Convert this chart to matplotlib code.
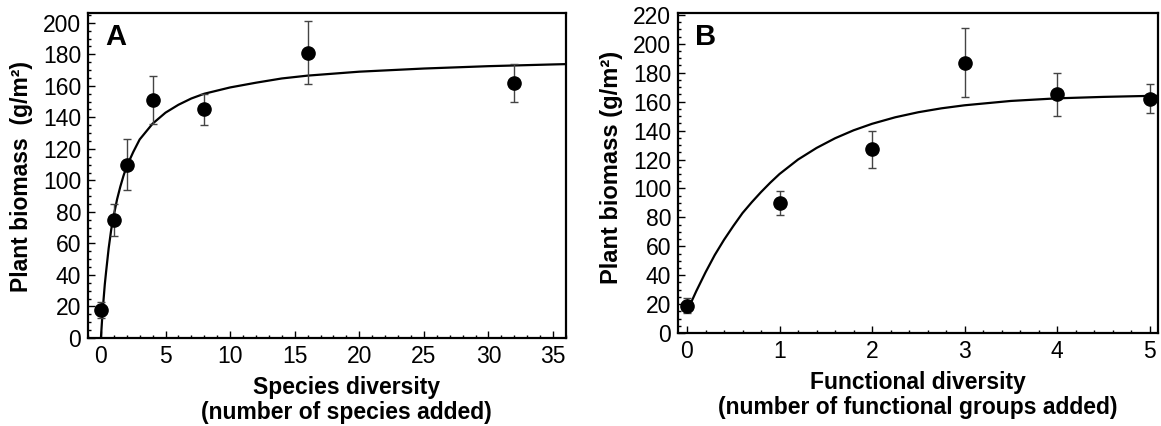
import matplotlib.pyplot as plt
from matplotlib.ticker import MultipleLocator

plt.rcParams['font.family'] = ['Liberation Sans', 'DejaVu Sans']

# panel A: species diversity
species_x = [0, 1, 2, 4, 8, 16, 32]
species_y = [18, 75, 110, 151, 145, 181, 162]
species_err = [5, 10, 16, 15, 10, 20, 12]
# fitted curve
curve_a_x = [0, 0.1, 0.2, 0.3, 0.4, 0.6, 0.8, 1, 1.25, 1.5, 1.75, 2, 2.5, 3, 3.5, 4,
             5, 6, 7, 8, 10, 12, 14, 16, 20, 25, 30, 35, 36]
curve_a_y = [0, 13, 24, 34, 42, 57, 69, 78, 88, 96, 103, 109, 118, 126, 131, 136,
             143, 148, 152, 155, 159, 162, 164.7, 166.5, 169, 171, 172.5, 173.6, 173.8]

# panel B: functional diversity
func_x = [0, 1, 2, 3, 4, 5]
func_y = [19, 90, 127, 187, 165, 162]
func_err = [5, 8, 13, 24, 15, 10]
curve_b_x = [0, 0.1, 0.2, 0.3, 0.4, 0.5, 0.6, 0.7, 0.8, 0.9, 1, 1.2, 1.4, 1.6, 1.8,
             2, 2.25, 2.5, 2.75, 3, 3.5, 4, 4.5, 5, 5.1]
curve_b_y = [15, 29, 42, 54, 64.5, 74, 83, 90.5, 97.5, 104, 110, 120, 128, 134.7, 140.2,
             144.7, 149.2, 152.7, 155.4, 157.5, 160.5, 162.3, 163.3, 164, 164.1]

fig = plt.figure(figsize=(11.61, 4.26), dpi=100)
ax1 = fig.add_axes([0.0758, 0.2066, 0.4117, 0.762])
ax2 = fig.add_axes([0.584, 0.218, 0.4134, 0.7505])


def style(ax):
    for s in ax.spines.values():
        s.set_linewidth(1.6)
    ax.tick_params(which='both', direction='in', labelsize=16.5, width=1.0, pad=5)
    ax.tick_params(which='major', length=5)
    ax.tick_params(which='minor', length=2.5)


ax1.plot(curve_a_x, curve_a_y, color='black', lw=1.6)
ax1.errorbar(species_x, species_y, yerr=species_err, fmt='o', color='black',
             ms=9.5, ecolor='#444444', elinewidth=1.0, capsize=3, capthick=1.0)
ax1.set_xlim(-1, 36)
ax1.set_ylim(0, 206)
ax1.xaxis.set_major_locator(MultipleLocator(5))
ax1.xaxis.set_minor_locator(MultipleLocator(1))
ax1.yaxis.set_major_locator(MultipleLocator(20))
ax1.yaxis.set_minor_locator(MultipleLocator(5))
style(ax1)
ax1.set_xlabel('Species diversity\n(number of species added)', fontsize=16.5,
               fontweight='bold', linespacing=1.1)
ax1.xaxis.set_label_coords(0.54, -0.117)
ax1.set_ylabel('Plant biomass  (g/m²)', fontsize=16.5, fontweight='bold')
ax1.yaxis.set_label_coords(-0.115, 0.4975)
ax1.text(0.036, 0.97, 'A', transform=ax1.transAxes, fontsize=21, fontweight='bold',
         va='top', ha='left')

ax2.plot(curve_b_x, curve_b_y, color='black', lw=1.6)
ax2.errorbar(func_x, func_y, yerr=func_err, fmt='o', color='black',
             ms=9.5, ecolor='#444444', elinewidth=1.0, capsize=3, capthick=1.0)
ax2.set_xlim(-0.097, 5.09)
ax2.set_ylim(0, 221)
ax2.xaxis.set_major_locator(MultipleLocator(1))
ax2.xaxis.set_minor_locator(MultipleLocator(0.2))
ax2.yaxis.set_major_locator(MultipleLocator(20))
ax2.yaxis.set_minor_locator(MultipleLocator(5))
style(ax2)
ax2.set_xlabel('Functional diversity\n(number of functional groups added)', fontsize=16.5,
               fontweight='bold', linespacing=1.1)
ax2.xaxis.set_label_coords(0.5, -0.119)
ax2.set_ylabel('Plant biomass (g/m²)', fontsize=17, fontweight='bold')
ax2.yaxis.set_label_coords(-0.115, 0.517)
ax2.text(0.036, 0.97, 'B', transform=ax2.transAxes, fontsize=21, fontweight='bold',
         va='top', ha='left')

fig.savefig('out.png', dpi=100)
